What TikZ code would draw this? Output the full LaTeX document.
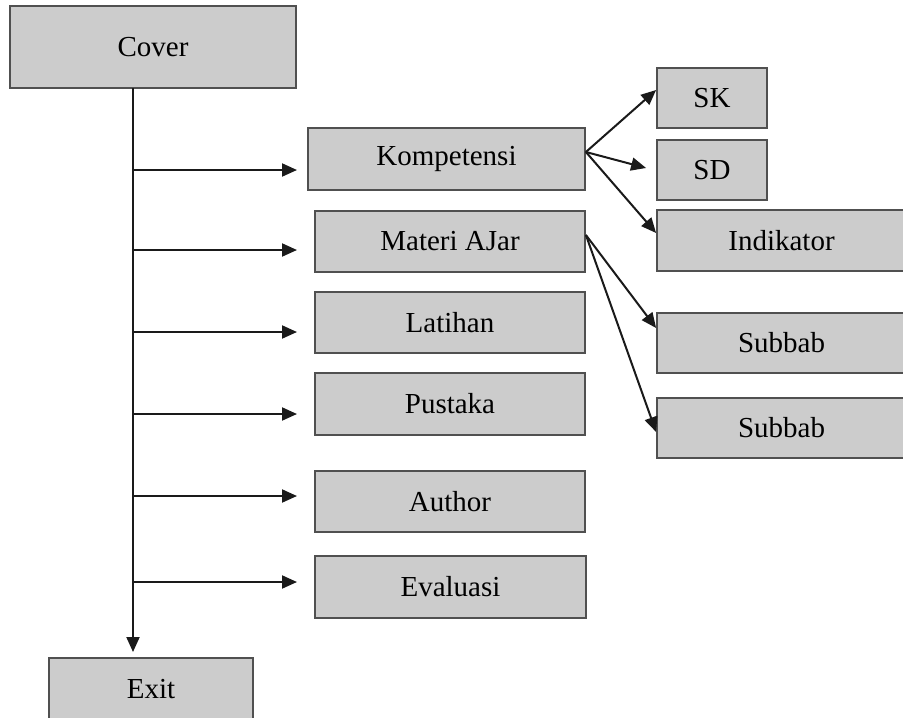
\documentclass[tikz,border=0pt]{standalone}
\usepackage{fontspec}
\setmainfont{Liberation Serif}
\usetikzlibrary{arrows.meta}

\definecolor{boxfill}{HTML}{CCCCCC}
\definecolor{boxline}{HTML}{505050}
\definecolor{arrline}{HTML}{1A1A1A}

\tikzset{
  menubox/.style={draw=boxline, fill=boxfill, line width=1.8pt, inner sep=0pt,
    minimum height=61pt, font=\fontsize{29}{35}\selectfont},
  arr/.style={draw=arrline, line width=2pt, -{Triangle[length=15pt,width=13pt]}}
}

\begin{document}
\begin{tikzpicture}[x=1pt, y=-1pt]
			%%%%% START %%%%%
			
			\useasboundingbox (0,0) rectangle (903,718);
			
			\node[menubox, minimum width=286pt, minimum height=82pt] (cover) at (153, 47) {Cover};
			
			\node[menubox, minimum width=277pt, minimum height=62pt] (kompetensi) at (446.5, 159) {Kompetensi};
			\node[menubox, minimum width=270pt] (materi) at (450, 241.5) {Materi AJar};
			\node[menubox, minimum width=270pt] (latihan) at (450, 322.5) {Latihan};
			\node[menubox, minimum width=270pt, minimum height=62pt] (pustaka) at (450, 404) {Pustaka};
			\node[menubox, minimum width=270pt] (author) at (450, 501.5) {Author};
			\node[menubox, minimum width=271pt, minimum height=62pt] (evaluasi) at (450.5, 587) {Evaluasi};
			
			\node[menubox, minimum width=204pt, minimum height=62pt] (exit) at (151, 689) {Exit};
			
			\node[menubox, minimum width=110pt, minimum height=60pt] (sk) at (712, 98) {SK};
			\node[menubox, minimum width=110pt, minimum height=60pt] (sd) at (712, 170) {SD};
			\node[menubox, minimum width=249pt] (indikator) at (781.5, 240.5) {Indikator};
			\node[menubox, minimum width=249pt, minimum height=60pt] (subbabA) at (781.5, 343) {Subbab};
			\node[menubox, minimum width=249pt, minimum height=60pt] (subbabB) at (781.5, 428) {Subbab};
			
			% trunk down to exit
			\coordinate (trunktop) at (133, 88);
			\coordinate (trunkend) at (133, 652);
			\draw[arr] (trunktop) -- (trunkend);
			
			% branches to the menu
			\foreach \n/\y in {kom/170, mat/250, lat/332, pus/414, aut/496, eva/582} {
				\coordinate (\n-out) at (133, \y);
				\coordinate (\n-in) at (297, \y);
				\draw[arr] (\n-out) -- (\n-in);
			}
			
			% sub menus
			\draw[arr] ([yshift=7pt]kompetensi.east) -- ([yshift=8pt]sk.west);
			\draw[arr] ([yshift=7pt]kompetensi.east) -- ([xshift=-10pt, yshift=2pt]sd.west);
			\draw[arr] ([yshift=7pt]kompetensi.east) -- ([yshift=7.5pt]indikator.west);
			
			\draw[arr] ([yshift=6.5pt]materi.east) -- ([yshift=15pt]subbabA.west);
			\draw[arr] ([yshift=6.5pt]materi.east) -- ([yshift=-4pt]subbabB.west);
			
			%%%%% END %%%%%
\end{tikzpicture}
\end{document}
